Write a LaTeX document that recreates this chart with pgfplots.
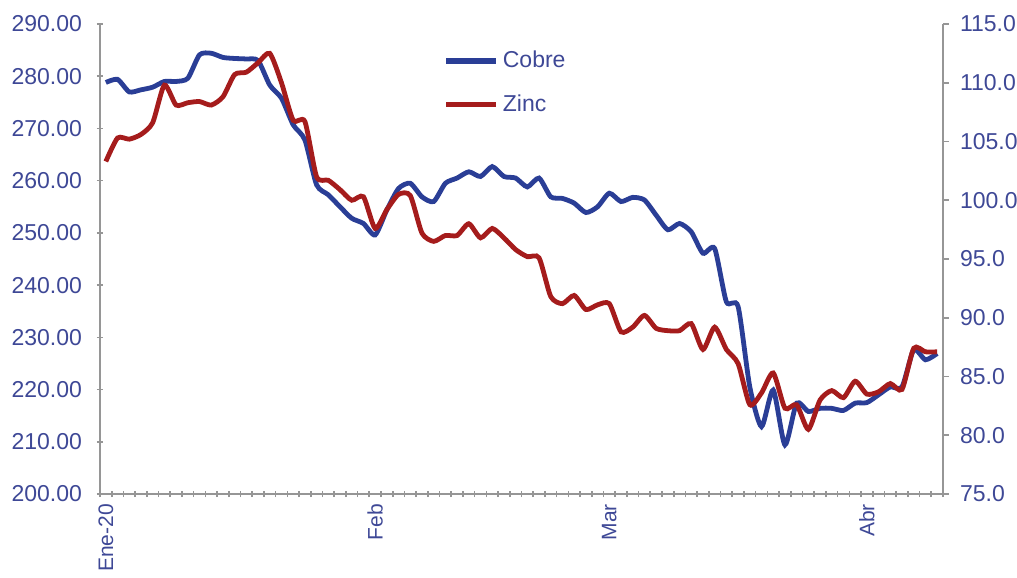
\documentclass[border=0pt]{standalone}
\usepackage{fontspec}
\setmainfont{Liberation Sans}
\usepackage{pgfplots}
\usepackage{pgfplotstable}
\pgfplotsset{compat=1.18}

\definecolor{cobre}{RGB}{42,62,150}
\definecolor{zinc}{RGB}{165,28,28}
\definecolor{txt}{RGB}{62,72,150}
\definecolor{axgray}{RGB}{150,150,150}

\pgfplotstableread{
i cobre zinc
0 278.8 103.3
1 279.4 105.3
2 277.0 105.2
3 277.4 105.6
4 277.9 106.6
5 279.0 109.8
6 279.0 108.1
7 279.6 108.3
8 284.1 108.4
9 284.4 108.1
10 283.6 108.8
11 283.4 110.7
12 283.3 110.9
13 283.0 111.7
14 278.3 112.5
15 275.8 110.0
16 270.7 106.8
17 267.8 106.7
18 259.2 102.0
19 257.3 101.7
20 255.0 100.9
21 252.8 100.0
22 251.8 100.3
23 249.6 97.6
24 254.4 99.2
25 258.5 100.5
26 259.5 100.4
27 256.9 97.2
28 256.0 96.5
29 259.5 97.0
30 260.5 97.0
31 261.7 98.0
32 260.8 96.8
33 262.7 97.6
34 260.8 96.8
35 260.5 95.8
36 258.8 95.2
37 260.5 95.1
38 256.9 91.8
39 256.6 91.2
40 255.7 91.9
41 253.9 90.7
42 255.0 91.1
43 257.6 91.2
44 256.0 88.8
45 256.8 89.2
46 256.3 90.2
47 253.4 89.1
48 250.6 88.9
49 251.8 88.9
50 250.2 89.5
51 246.1 87.3
52 247.0 89.2
53 236.8 87.3
54 235.9 86.1
55 220.5 82.6
56 212.9 83.6
57 219.9 85.3
58 209.4 82.3
59 217.4 82.6
60 215.8 80.5
61 216.4 83.0
62 216.4 83.8
63 216.0 83.2
64 217.4 84.6
65 217.5 83.5
66 219.0 83.7
67 220.5 84.4
68 220.5 83.9
69 227.6 87.4
70 225.7 87.1
71 226.9 87.1
}\datos

\pgfplotsset{
  base/.style={
    width=421.5pt, height=235pt, scale only axis,
    xmin=-0.5, xmax=71.5,
    font=\fontsize{11.5}{13}\selectfont, color=txt,
    axis line style={axgray, line width=0.8pt},
    tick style={axgray, line width=0.8pt},
    tick align=outside,
    /pgf/number format/assume math mode=true,
  },
}

\begin{document}
\begin{tikzpicture}
\begin{axis}[base,
  axis x line=bottom, axis y line=left,
  ymin=200, ymax=290, ytick={200,210,...,290},
  yticklabel style={xshift=-4pt, /pgf/number format/.cd, fixed, fixed zerofill, precision=2, 1000 sep={}},
  major tick length=3pt,
  xtick={0,23,43,65}, xticklabels={Ene-20,Feb,Mar,Abr},
  major x tick style={draw=none},
  minor xtick={-0.5,0.5,...,71.5},
  minor tick length=3pt,
  xticklabel style={rotate=90, anchor=east, font=\fontsize{10.5}{12}\selectfont},
  x axis line style={-},
  y axis line style={-},
]
\addplot[cobre, line width=2.4pt, smooth, tension=0.4] table[x=i, y=cobre] {\datos};
\end{axis}
\begin{axis}[base,
  axis x line=none, axis y line*=right,
  ymin=75, ymax=115, ytick={75,80,...,115},
  yticklabel style={xshift=2pt, /pgf/number format/.cd, fixed, fixed zerofill, precision=1},
  major tick length=3pt,
  y axis line style={-},
  legend style={draw=none, fill=none, at={(0.4,0.96)}, anchor=north west,
    font=\fontsize{11.5}{13}\selectfont, text=txt, row sep=8pt,
    /tikz/every even column/.append style={column sep=2pt}},
  legend cell align=left,
  legend image code/.code={\draw[#1, line width=2.6pt] (0,0) -- (0.88cm,0);},
]
\addlegendimage{cobre}
\addlegendentry{Cobre}
\addplot[zinc, line width=2.4pt, smooth, tension=0.4] table[x=i, y=zinc] {\datos};
\addlegendentry{Zinc}
\end{axis}
\pgfresetboundingbox
\useasboundingbox (-50pt,-42pt) rectangle (458.5pt,247pt);
\end{tikzpicture}
\end{document}
